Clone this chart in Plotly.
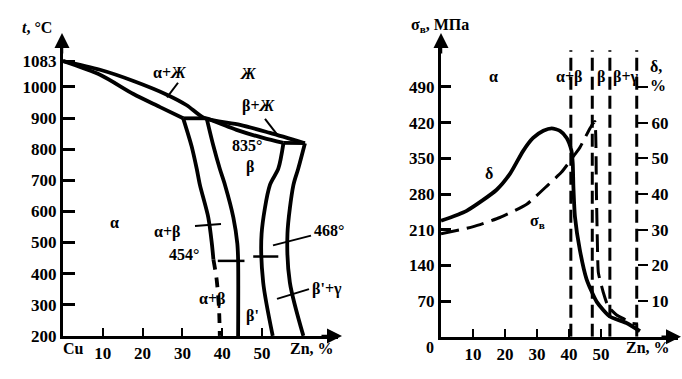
import plotly.graph_objects as go

W, H = 682, 379
FONT = "Liberation Serif"

# ---------------- Left: Cu-Zn phase diagram (x: Zn %, y: °C) ----------------
liq_x = [0, 9.3, 17.7, 26.1, 31.1, 35.5, 44.5, 52.0, 60.8]
liq_t = [1083, 1055, 1019, 975, 941, 900, 878, 852, 819]
sol_a_x = [0, 9.3, 17.7, 24.4, 30.2]
sol_a_t = [1083, 1039, 977, 935, 899]
perit_x = [30.2, 36.1]
perit_t = [899, 899]
sol_b_x = [36.1, 43.6, 50.3, 55.4]
sol_b_t = [899, 862, 836, 820]
h835_x = [55.4, 60.8]
h835_t = [820, 819]
a_bd_x = [30.2, 32.3, 33.6, 34.4, 36.5, 37.4, 37.8]
a_bd_t = [899, 810, 737, 685, 581, 497, 445]
a_bd_low_x = [37.8, 38.6, 39.2, 39.4]
a_bd_low_t = [445, 382, 288, 200]
b_left_x = [36.1, 37.8, 39.4, 40.7, 42.8, 43.8, 44.0, 44.0]
b_left_t = [899, 810, 737, 685, 581, 497, 445, 200]
b_right_x = [55.4, 54.1, 52.0, 49.9, 50.3, 52.7]
b_right_t = [820, 737, 685, 528, 372, 200]
g_bd_x = [60.8, 59.1, 57.9, 56.4, 57.0, 60.4]
g_bd_t = [819, 737, 685, 528, 372, 200]
ord454_x = [38.9, 45.6]
ord454_t = [441, 441]
ord468_x = [47.8, 54.1]
ord468_t = [455, 455]
left_xticks = [10, 20, 30, 40, 50]
left_yticks = [200, 300, 400, 500, 600, 700, 800, 900, 1000, 1083]

# ---------------- Right: properties vs Zn % ----------------
delta_x = [0, 8.0, 17.4, 21.6, 25.7, 28.8, 32.0, 34.6, 37.2, 39.3, 40.8, 41.2,
           41.4, 41.9, 43.4, 45.5, 48.7, 52.8, 58.0, 62.2]
delta_v = [32.5, 35.3, 41.2, 45.7, 52.1, 55.7, 57.7, 58.4, 57.7, 55.7, 52.1, 48.5,
           42.0, 33.5, 24.4, 16.2, 9.8, 5.7, 3.9, 1.6]
sigma_x = [0, 10.1, 18.4, 26.8, 33.5, 37.7, 41.9, 43.4, 46.6, 47.6, 48.1, 48.6, 48.9,
           49.2, 50.7, 52.3, 54.9, 57.5, 59.1, 61.6]
sigma_v = [202, 216, 234, 260, 298, 323, 358, 371, 409, 419, 422, 279, 183,
           126, 88, 59, 43, 34, 27, 25]
phase_bounds = [40.6, 47.3, 52.8, 61.2]
right_xticks = [10, 20, 30, 40, 50]
sigma_ticks = [70, 140, 210, 280, 350, 420, 490]
delta_ticks = [10, 20, 30, 40, 50, 60, 70]
delta_ticktext = ["10", "20", "30", "40", "50", "60", ""]


def px(x):
    return x / W


def py(y):
    return 1 - y / H


fig = go.Figure()


def line(x, y, xa="x", ya="y", width=3.8, dash="solid", shape="spline", smoothing=0.8):
    fig.add_trace(go.Scatter(x=x, y=y, xaxis=xa, yaxis=ya, mode="lines",
                             line=dict(color="black", width=width, dash=dash, shape=shape,
                                       smoothing=smoothing),
                             showlegend=False, hoverinfo="skip"))


line(liq_x, liq_t)
line(sol_a_x, sol_a_t)
line(perit_x, perit_t, shape="linear")
line(sol_b_x, sol_b_t)
line(h835_x, h835_t, shape="linear")
line(a_bd_x, a_bd_t)
line(a_bd_low_x, a_bd_low_t, dash="10px,8px")
line(b_left_x, b_left_t)
line(b_right_x, b_right_t)
line(g_bd_x, g_bd_t)
line(ord454_x, ord454_t, width=2.5, shape="linear")
line(ord468_x, ord468_t, width=2.5, shape="linear")

line(delta_x, delta_v, xa="x2", ya="y3", width=3.8, smoothing=0.6)
line(sigma_x, sigma_v, xa="x2", ya="y2", width=3, dash="18px,8px", smoothing=0.5)

for b in phase_bounds:
    fig.add_trace(go.Scatter(x=[b, b], y=[0, 562], xaxis="x2", yaxis="y2", mode="lines",
                             line=dict(color="black", width=3, dash="13px,6px"),
                             showlegend=False, hoverinfo="skip"))

tickfont = dict(family=FONT, size=17, color="black", weight="bold")

fig.update_layout(
    width=W, height=H, margin=dict(l=0, r=0, t=0, b=0),
    paper_bgcolor="white", plot_bgcolor="white", showlegend=False,
    font=dict(family=FONT, size=16, color="black"),
    xaxis=dict(domain=[px(63), px(338)], range=[0, 69.1], anchor="y",
               showline=True, linecolor="black", linewidth=3, showgrid=False, zeroline=False,
               ticks="inside", ticklen=8, tickwidth=2, tickcolor="black",
               tickvals=left_xticks, ticktext=[str(v) for v in left_xticks],
               tickfont=tickfont, fixedrange=True),
    yaxis=dict(domain=[py(345), py(40)], range=[200, 1154], anchor="x",
               showline=True, linecolor="black", linewidth=3, showgrid=False, zeroline=False,
               ticks="inside", ticklen=12, tickwidth=3, tickcolor="black",
               tickvals=left_yticks, ticktext=[str(v) for v in left_yticks],
               tickfont=tickfont, fixedrange=True),
    xaxis2=dict(domain=[px(441), px(678)], range=[0, 74.1], anchor="y2",
                showline=True, linecolor="black", linewidth=3, showgrid=False, zeroline=False,
                ticks="inside", ticklen=8, tickwidth=2, tickcolor="black",
                tickvals=right_xticks, ticktext=[str(v) for v in right_xticks],
                tickfont=tickfont, fixedrange=True),
    yaxis2=dict(domain=[py(346), py(40)], range=[0, 584], anchor="x2",
                showline=True, linecolor="black", linewidth=3, showgrid=False, zeroline=False,
                ticks="inside", ticklen=10, tickwidth=3, tickcolor="black",
                tickvals=sigma_ticks, ticktext=[str(v) for v in sigma_ticks],
                tickfont=tickfont, fixedrange=True),
    yaxis3=dict(overlaying="y2", side="right", anchor="free", position=px(637),
                range=[0, 584 / 7], showline=False, showgrid=False, zeroline=False,
                ticks="outside", ticklen=10, tickwidth=2, tickcolor="black",
                tickvals=delta_ticks, ticktext=delta_ticktext,
                tickfont=tickfont, fixedrange=True),
)

annots = [
    ("<i>t</i>, °C", 37, 28), ("α+<i>Ж</i>", 170, 74), ("<i>Ж</i>", 248, 75),
    ("β+<i>Ж</i>", 259, 109), ("835°", 247, 149), ("β", 250, 172), ("α", 115, 229),
    ("α+β", 167, 238), ("454°", 184, 261), ("468°", 329, 237), ("β'+γ", 327, 297),
    ("α+β", 212, 307), ("β'", 252, 325), ("Cu", 73, 358), ("Zn, %", 312, 358),
    ("σ<sub>в</sub>, МПа", 440, 26), ("α", 493, 79), ("α+β", 569, 79), ("β", 601, 79),
    ("β+γ", 626, 79), ("δ,", 656, 68), ("%", 658, 88), ("δ", 489, 178),
    ("σ<sub>в</sub>", 537, 228), ("0", 430, 357), ("Zn, %", 648, 357),
]
annotations = [dict(text=t, x=px(x), y=py(y), xref="paper", yref="paper",
                    xanchor="center", yanchor="middle", showarrow=False,
                    font=dict(family=FONT, size=16, color="black", weight="bold"))
               for t, x, y in annots]

# axis arrows
for (hx, hy, ax, ay) in [(62, 34, 0, 22), (342, 345, -22, 0), (441, 34, 0, 22), (682, 346, -22, 0)]:
    annotations.append(dict(x=px(hx), y=py(hy), xref="paper", yref="paper", text="",
                            showarrow=True, ax=ax, ay=ay, arrowhead=2, arrowsize=1.2,
                            arrowwidth=2.5, arrowcolor="black"))
fig.update_layout(annotations=annotations)

# leader lines for labels
leaders = [(178, 85, 167, 100), (265, 122, 277, 138), (195, 232, 221, 230),
           (273, 252, 311, 242), (277, 307, 309, 297)]
fig.update_layout(shapes=[dict(type="line", xref="paper", yref="paper",
                               x0=px(a), y0=py(b), x1=px(c), y1=py(d),
                               line=dict(color="black", width=2))
                          for a, b, c, d in leaders])

fig.write_html("out.html", config={"displayModeBar": False},
               post_script="document.body.style.margin='0';")
